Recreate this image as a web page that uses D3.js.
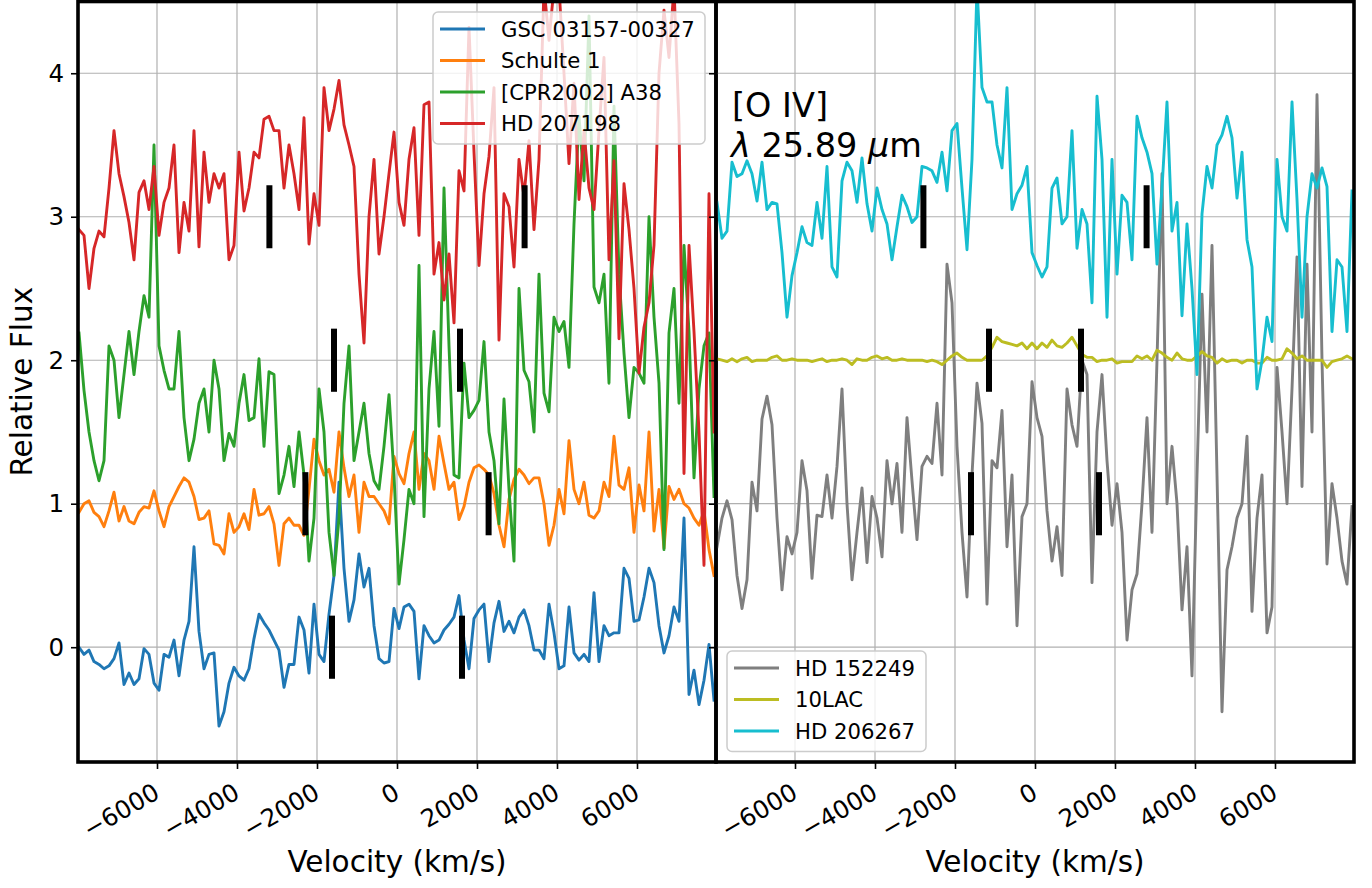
<!DOCTYPE html>
<html>
<head>
<meta charset="utf-8">
<style>
  body { margin: 0; background: #fff; }
  svg { font-family: "DejaVu Sans", sans-serif; }
</style>
</head>
<body>
<svg id="chart" width="1372" height="888"></svg>
<script src="https://cdn.jsdelivr.net/npm/d3@7"></script>
<script>
// sampling of the spectra, km/s
var velocity = d3.range(-7950, 7951, 125);

// left panel (offset spectra)
var gsc03157 = [0.0, -0.05, -0.02, -0.1, -0.12, -0.15, -0.13, -0.08, 0.03, -0.26,
  -0.18, -0.26, -0.22, -0.01, -0.05, -0.25, -0.3, -0.05, -0.07, 0.05,
  -0.2, 0.05, 0.18, 0.7, 0.11, -0.15, -0.05, -0.04, -0.55, -0.45,
  -0.25, -0.14, -0.2, -0.23, -0.15, 0.06, 0.23, 0.17, 0.12, 0.05,
  -0.02, -0.28, -0.12, -0.12, 0.21, 0.12, -0.18, 0.3, -0.05, -0.1,
  0.23, 0.5, 1.15, 0.55, 0.18, 0.33, 0.65, 0.42, 0.55, 0.15,
  -0.08, -0.11, -0.1, 0.27, 0.13, 0.28, 0.3, 0.25, -0.22, 0.15,
  0.08, 0.03, 0.05, 0.12, 0.16, 0.21, 0.36, 0.05, -0.15, 0.2,
  0.26, 0.3, -0.1, 0.17, 0.32, 0.11, 0.18, 0.1, 0.21, 0.26,
  0.15, -0.02, -0.02, -0.08, 0.3, 0.1, -0.15, -0.13, 0.28, -0.04,
  -0.09, -0.05, -0.1, 0.38, -0.1, 0.15, 0.08, 0.1, 0.1, 0.55,
  0.48, 0.18, 0.19, 0.35, 0.55, 0.45, 0.15, -0.04, 0.08, 0.28,
  0.18, 0.9, -0.33, -0.16, -0.4, -0.23, 0.02, -0.37];
var schulte1 = [0.94, 1.0, 1.02, 0.94, 0.91, 0.84, 0.95, 1.08, 0.88, 0.98,
  0.88, 0.86, 0.94, 0.98, 0.97, 1.09, 0.95, 0.84, 0.98, 1.05,
  1.12, 1.18, 1.15, 1.05, 0.89, 0.9, 0.95, 0.72, 0.71, 0.65,
  0.93, 0.8, 0.84, 0.93, 0.82, 1.1, 0.92, 0.93, 0.98, 0.86,
  0.57, 0.86, 0.9, 0.85, 0.85, 0.78, 1.1, 1.45, 1.3, 1.2,
  1.24, 1.08, 1.5, 1.25, 1.05, 1.2, 0.8, 1.15, 1.05, 1.05,
  1.0, 0.95, 0.86, 1.33, 1.21, 1.14, 1.35, 1.5, 1.1, 1.35,
  1.3, 1.1, 1.47, 1.28, 1.1, 1.15, 0.89, 0.98, 1.15, 1.25,
  1.27, 1.24, 1.2, 1.07, 0.85, 0.7, 1.03, 1.17, 1.24, 1.2,
  1.14, 1.18, 1.18, 1.0, 0.71, 0.85, 1.1, 0.93, 1.44, 1.1,
  1.0, 1.15, 0.92, 0.9, 0.95, 1.15, 1.05, 1.47, 1.13, 1.1,
  1.25, 0.8, 1.13, 0.95, 1.5, 0.81, 1.1, 0.69, 1.12, 1.03,
  1.1, 1.0, 0.97, 0.9, 0.85, 0.95, 0.68, 0.5];
var cpr2002A38 = [2.19, 1.79, 1.5, 1.3, 1.16, 1.3, 2.1, 2.0, 1.6, 1.9,
  2.2, 1.9, 2.2, 2.45, 2.3, 3.5, 2.1, 1.93, 1.8, 1.8,
  2.2, 1.6, 1.3, 1.45, 1.7, 1.8, 1.5, 2.0, 1.8, 1.3,
  1.49, 1.4, 1.7, 1.9, 1.58, 1.6, 2.01, 1.4, 1.92, 1.9,
  1.07, 1.2, 1.4, 1.12, 1.5, 1.2, 0.6, 0.9, 1.8, 1.5,
  0.8, 0.5, 0.9, 1.7, 2.1, 1.3, 1.5, 1.7, 1.35, 1.16,
  1.1, 1.4, 1.76, 1.2, 0.44, 0.75, 1.1, 1.0, 2.66, 0.91,
  1.8, 2.2, 1.54, 3.2, 2.1, 1.2, 1.18, 1.98, 1.6, 1.65,
  1.72, 2.13, 1.5, 1.3, 0.86, 1.73, 1.1, 0.6, 2.5, 1.93,
  1.85, 1.5, 2.6, 1.77, 1.64, 2.3, 2.2, 2.27, 1.95, 2.95,
  3.7, 3.25, 4.4, 2.51, 2.4, 2.6, 1.84, 3.77, 2.6, 2.05,
  1.6, 1.95, 1.91, 1.84, 3.0, 2.3, 1.84, 0.68, 2.19, 2.5,
  1.7, 2.8, 2.2, 1.18, 1.8, 2.1, 2.19, 1.05];
var hd207198 = [2.91, 2.87, 2.5, 2.78, 2.9, 2.86, 3.2, 3.6, 3.3, 3.14,
  2.96, 2.7, 3.17, 3.25, 3.05, 3.35, 2.87, 3.1, 3.2, 3.5,
  2.75, 3.1, 2.9, 3.6, 2.79, 3.45, 3.1, 3.3, 3.2, 3.3,
  2.7, 2.8, 3.45, 3.04, 3.2, 3.45, 3.41, 3.68, 3.7, 3.6,
  3.6, 3.2, 3.5, 3.3, 3.05, 3.69, 2.81, 3.16, 2.94, 3.9,
  3.6, 3.75, 3.95, 3.64, 3.5, 3.35, 2.6, 2.12, 3.0, 3.4,
  2.74, 3.0, 3.3, 3.59, 3.1, 2.94, 3.4, 3.62, 2.87, 3.78,
  3.8, 2.6, 2.82, 2.42, 2.74, 2.26, 3.32, 3.18, 4.32, 3.45,
  2.66, 3.16, 3.42, 3.9, 2.14, 3.16, 3.07, 2.65, 3.4, 3.14,
  3.53, 2.91, 3.4, 4.6, 4.23, 4.6, 4.6, 4.0, 3.37, 3.93,
  3.12, 3.6, 3.2, 3.05, 3.6, 4.11, 2.7, 3.39, 2.15, 3.23,
  2.91, 2.5, 1.91, 2.23, 2.4, 2.8, 4.0, 4.44, 4.11, 4.6,
  3.65, 1.21, 2.8, 2.2, 1.5, 0.57, 3.16, 1.5];

// right panel
var hd152249 = [0.7, 0.9, 1.02, 0.89, 0.5, 0.27, 0.47, 1.15, 0.95, 1.59,
  1.75, 1.55, 0.9, 0.4, 0.77, 0.65, 0.8, 1.3, 1.09, 0.48,
  0.92, 0.91, 1.2, 0.9, 1.26, 1.8, 1.0, 0.47, 0.8, 1.11,
  0.59, 1.05, 0.9, 0.63, 1.3, 1.0, 1.28, 0.8, 1.6, 1.16,
  0.75, 1.26, 1.33, 1.28, 1.7, 1.2, 2.67, 2.4, 1.4, 0.8,
  0.35, 1.2, 1.84, 1.56, 0.3, 1.3, 1.25, 1.65, 0.7, 1.2,
  0.15, 0.91, 1.0, 1.85, 1.6, 1.47, 0.95, 0.6, 0.84, 0.5,
  1.8, 1.55, 1.4, 2.0, 1.9, 0.45, 1.5, 1.9, 1.3, 0.85,
  1.14, 0.8, 0.05, 0.4, 0.51, 1.0, 1.6, 0.8, 2.0, 3.3,
  1.0, 1.4, 1.0, 0.26, 0.7, -0.2, 1.2, 2.46, 1.5, 2.8,
  1.2, -0.45, 0.54, 0.7, 0.9, 1.0, 1.47, 0.25, 0.9, 1.2,
  0.1, 0.28, 1.95, 1.5, 1.0, 1.8, 2.72, 1.12, 2.67, 1.5,
  3.85, 2.0, 0.58, 1.14, 0.9, 0.6, 0.44, 0.98];
var lac10 = [2.01, 2.0, 1.99, 2.01, 1.99, 2.01, 2.02, 1.99, 2.0, 2.0,
  2.0, 2.02, 2.03, 2.0, 2.0, 2.01, 2.0, 2.0, 2.0, 1.99,
  2.0, 2.01, 1.99, 2.0, 2.0, 2.01, 2.0, 1.97, 2.01, 2.0,
  2.0, 2.02, 2.03, 2.01, 2.02, 2.0, 2.0, 2.01, 2.0, 2.0,
  2.0, 2.0, 1.99, 2.0, 1.99, 1.97, 2.0, 2.03, 2.05, 2.02,
  2.0, 2.0, 2.0, 2.0, 2.03, 2.09, 2.16, 2.13, 2.12, 2.11,
  2.1, 2.12, 2.08, 2.12, 2.08, 2.12, 2.09, 2.14, 2.1, 2.09,
  2.12, 2.16, 2.1, 2.04, 2.02, 2.02, 1.99, 2.0, 2.0, 2.01,
  1.98, 1.99, 1.99, 1.99, 2.03, 2.01, 2.03, 2.0, 2.07, 2.05,
  2.02, 2.0, 2.05, 2.01, 2.0, 2.0, 2.03, 2.06, 2.03, 2.02,
  1.98, 2.01, 1.99, 2.0, 2.0, 1.98, 2.0, 2.0, 1.98, 1.98,
  2.02, 2.0, 2.0, 2.01, 2.08, 2.05, 2.01, 2.03, 2.0, 2.0,
  2.0, 2.0, 1.95, 1.99, 2.0, 2.01, 2.03, 2.01];
var hd206267 = [3.1, 2.85, 2.9, 3.38, 3.28, 3.3, 3.39, 3.3, 3.11, 3.38,
  3.05, 3.1, 3.09, 2.75, 2.3, 2.59, 2.75, 2.93, 2.82, 2.8,
  3.1, 2.85, 3.35, 2.65, 2.58, 3.25, 3.38, 3.32, 3.1, 3.41,
  3.09, 2.9, 3.2, 3.05, 2.95, 2.7, 2.93, 3.15, 3.07, 2.96,
  3.0, 3.35, 3.34, 3.32, 3.24, 3.45, 3.18, 3.6, 3.65, 3.2,
  2.77, 3.4, 4.6, 3.9, 3.8, 3.8, 3.5, 3.34, 3.9, 3.05,
  3.16, 3.22, 3.35, 2.75, 2.66, 2.58, 2.65, 3.2, 3.27, 2.95,
  3.0, 3.6, 2.78, 3.05, 2.95, 2.4, 3.84, 3.4, 2.3, 3.4,
  2.6, 3.15, 3.1, 2.7, 3.7, 3.55, 3.45, 3.3, 2.67, 3.2,
  3.8, 2.9, 3.1, 2.31, 2.95, 2.5, 1.9, 3.02, 3.35, 3.2,
  3.5, 3.57, 3.7, 3.55, 3.13, 3.45, 2.84, 2.65, 1.8, 2.0,
  2.3, 2.13, 3.4, 3.0, 2.9, 3.8, 3.12, 2.3, 3.0, 3.3,
  3.2, 3.34, 3.21, 2.2, 2.7, 2.65, 2.2, 3.18];

// names, colours, and the +/- velocity bars drawn on each spectrum
var leftNames = ["GSC 03157-00327", "Schulte 1", "[CPR2002] A38", "HD 207198"];
var leftColors = ["#1f77b4", "#ff7f0e", "#2ca02c", "#d62728"];
var leftFlux = [gsc03157, schulte1, cpr2002A38, hd207198];
var leftBarLevel = [0, 1, 2, 3];
var leftBarVel = [1625, 2290, 1575, 3190];

var rightNames = ["HD 152249", "10LAC", "HD 206267"];
var rightColors = ["#7f7f7f", "#bcbd22", "#17becf"];
var rightFlux = [hd152249, lac10, hd206267];
var rightBarLevel = [1, 2, 3];
var rightBarVel = [1600, 1150, 2790];

var xTicks = [-6000, -4000, -2000, 0, 2000, 4000, 6000];
var yTicks = [0, 1, 2, 3, 4];

var svg = d3.select("#chart");
var y = d3.scaleLinear().domain([-0.8, 4.5]).range([762, 1.5]);
var fmt = d3.format("d");

function drawPanel(id, x0, x1, names, colors, fluxes, levels, barVel, showYLabels) {
  var x = d3.scaleLinear().domain([-7975, 7975]).range([x0, x1]);
  var g = svg.append("g");

  g.append("clipPath").attr("id", "clip" + id)
    .append("rect").attr("x", x0).attr("y", y(4.5)).attr("width", x1 - x0).attr("height", y(-0.8) - y(4.5));

  // grid
  g.selectAll(".vg").data(xTicks).enter().append("line")
    .attr("x1", x).attr("x2", x).attr("y1", y(4.5)).attr("y2", y(-0.8))
    .attr("stroke", "#b0b0b0").attr("stroke-width", 1.2);
  g.selectAll(".hg").data(yTicks).enter().append("line")
    .attr("x1", x0).attr("x2", x1).attr("y1", y).attr("y2", y)
    .attr("stroke", "#b0b0b0").attr("stroke-width", 1.2);

  var line = d3.line().x(function(d, i) { return x(velocity[i]); }).y(function(d) { return y(d); });
  var plot = g.append("g").attr("clip-path", "url(#clip" + id + ")");
  fluxes.forEach(function(f, k) {
    plot.append("path").datum(f).attr("d", line)
      .attr("fill", "none").attr("stroke", colors[k]).attr("stroke-width", 2.9)
      .attr("stroke-linejoin", "round").attr("stroke-linecap", "square");
  });
  levels.forEach(function(lv, k) {
    [-barVel[k], barVel[k]].forEach(function(v) {
      plot.append("line").attr("x1", x(v)).attr("x2", x(v))
        .attr("y1", y(lv - 0.22)).attr("y2", y(lv + 0.22))
        .attr("stroke", "#000").attr("stroke-width", 6);
    });
  });

  // axes
  var ax = g.append("g").attr("transform", "translate(0," + y(-0.8) + ")")
    .call(d3.axisBottom(x).tickValues(xTicks).tickSize(7).tickFormat(fmt));
  ax.select(".domain").remove();
  ax.selectAll(".tick line").attr("stroke-width", 1.6);
  ax.selectAll(".tick text")
    .attr("x", 0).attr("y", 0).attr("dy", "0.72em")
    .attr("text-anchor", "end")
    .attr("transform", "translate(-5,20) rotate(-30)")
    .style("font-size", "24.5px").style("font-family", "DejaVu Sans");

  var ay = g.append("g").attr("transform", "translate(" + x0 + ",0)")
    .call(d3.axisLeft(y).tickValues(yTicks).tickSize(7).tickPadding(7).tickFormat(fmt));
  ay.select(".domain").remove();
  ay.selectAll(".tick line").attr("stroke-width", 1.6);
  ay.selectAll(".tick text").style("font-size", "24.5px").style("font-family", "DejaVu Sans");
  if (!showYLabels) ay.selectAll(".tick text").remove();

  g.append("rect").attr("x", x0).attr("y", y(4.5)).attr("width", x1 - x0).attr("height", y(-0.8) - y(4.5))
    .attr("fill", "none").attr("stroke", "#000").attr("stroke-width", 3.6);

  g.append("text").attr("x", (x0 + x1) / 2).attr("y", 872).attr("text-anchor", "middle")
    .style("font-size", "29.5px").text("Velocity (km/s)");
  return g;
}

function legend(g, lx, ly, w, names, colors) {
  var rowH = 31.5;
  var lg = g.append("g").attr("transform", "translate(" + lx + "," + ly + ")");
  lg.append("rect").attr("width", w).attr("height", names.length * rowH + 6)
    .attr("rx", 5).attr("fill", "#fff").attr("fill-opacity", 0.8)
    .attr("stroke", "#cccccc").attr("stroke-width", 1.5);
  names.forEach(function(n, i) {
    var cy = 17 + i * rowH;
    lg.append("line").attr("x1", 7).attr("x2", 52).attr("y1", cy).attr("y2", cy)
      .attr("stroke", colors[i]).attr("stroke-width", 2.9);
    lg.append("text").attr("x", 68).attr("y", cy).attr("dy", "0.36em")
      .style("font-size", "21.2px").text(n);
  });
}

var gl = drawPanel("L", 78, 716, leftNames, leftColors, leftFlux, leftBarLevel, leftBarVel, true);
var gr = drawPanel("R", 716, 1354, rightNames, rightColors, rightFlux, rightBarLevel, rightBarVel, false);
legend(gl, 433, 12, 272, leftNames, leftColors);
legend(gr, 727, 651, 199, rightNames, rightColors);

svg.append("text").attr("transform", "translate(32," + ((y(4.5) + y(-0.8)) / 2) + ") rotate(-90)")
  .attr("text-anchor", "middle").style("font-size", "29.5px").text("Relative Flux");

var note = svg.append("text").attr("x", 732).attr("y", 117).style("font-size", "33.5px");
note.append("tspan").attr("x", 732).text("[O IV]");
var l2 = note.append("tspan").attr("x", 731).attr("dy", 40);
l2.append("tspan").style("font-style", "italic").text("λ");
l2.append("tspan").text(" 25.89 ");
l2.append("tspan").style("font-style", "italic").text("μ");
l2.append("tspan").text("m");
</script>
</body>
</html>
